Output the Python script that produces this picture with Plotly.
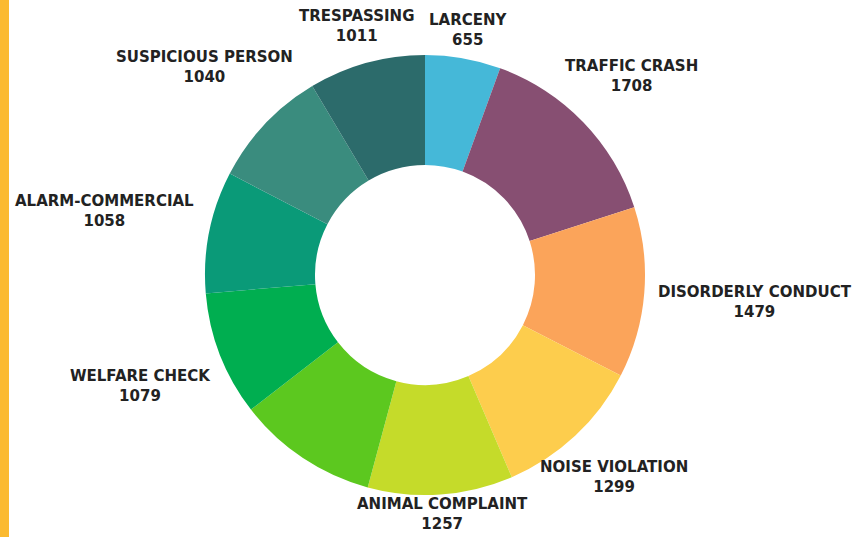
import math
import plotly.graph_objects as go

categories = ["LARCENY", "TRAFFIC CRASH", "DISORDERLY CONDUCT", "NOISE VIOLATION",
              "ANIMAL COMPLAINT", "UNLABELED", "WELFARE CHECK", "ALARM-COMMERCIAL",
              "SUSPICIOUS PERSON", "TRESPASSING"]
values = [655, 1708, 1479, 1299, 1257, 1220, 1079, 1058, 1040, 1011]
show_label = [True, True, True, True, True, False, True, True, True, True]
colors = ["#45B8D8", "#874F72", "#FBA45A", "#FDCD4D", "#C5DB2A",
          "#5CC81F", "#00AE50", "#0A9A78", "#3A8C7E", "#2C6B6B"]

# layout parameters (pixels)
W, H = 860, 537
CX, CY, R = 425, 275, 220
label_dist = [249, 287, 331, 277, 240, 260, 305, 327, 303, 258]

fig = go.Figure(go.Pie(
    labels=categories,
    values=values,
    textinfo="none",
    hole=0.5,
    sort=False,
    direction="clockwise",
    rotation=0,
    marker=dict(colors=colors, line=dict(width=0)),
    domain=dict(x=[(CX - R) / W, (CX + R) / W], y=[1 - (CY + R) / H, 1 - (CY - R) / H]),
    showlegend=False,
    hoverinfo="label+value",
))

total = sum(values)
annotations = []
cum = 0
for cat, val, show, d in zip(categories, values, show_label, label_dist):
    mid = (cum + val / 2) / total * 2 * math.pi
    cum += val
    if not show:
        continue
    px = CX + d * math.sin(mid)
    py = CY - d * math.cos(mid)
    annotations.append(dict(
        x=px / W, y=1 - py / H, xref="paper", yref="paper",
        text=f"{cat}<br>{val}", showarrow=False,
        xanchor="center", yanchor="middle",
        font=dict(family="DejaVu Sans", size=15, color="#222222", weight=700),
    ))

fig.update_layout(
    width=W, height=H,
    margin=dict(l=0, r=0, t=0, b=0),
    paper_bgcolor="white",
    annotations=annotations,
    shapes=[dict(type="rect", xref="paper", yref="paper", x0=0, x1=9 / W, y0=0, y1=1,
                 fillcolor="#FBBA30", line=dict(width=0), layer="above")],
)

fig.write_html("out.html", config={"displayModeBar": False},
               post_script="document.body.style.margin='0';")
